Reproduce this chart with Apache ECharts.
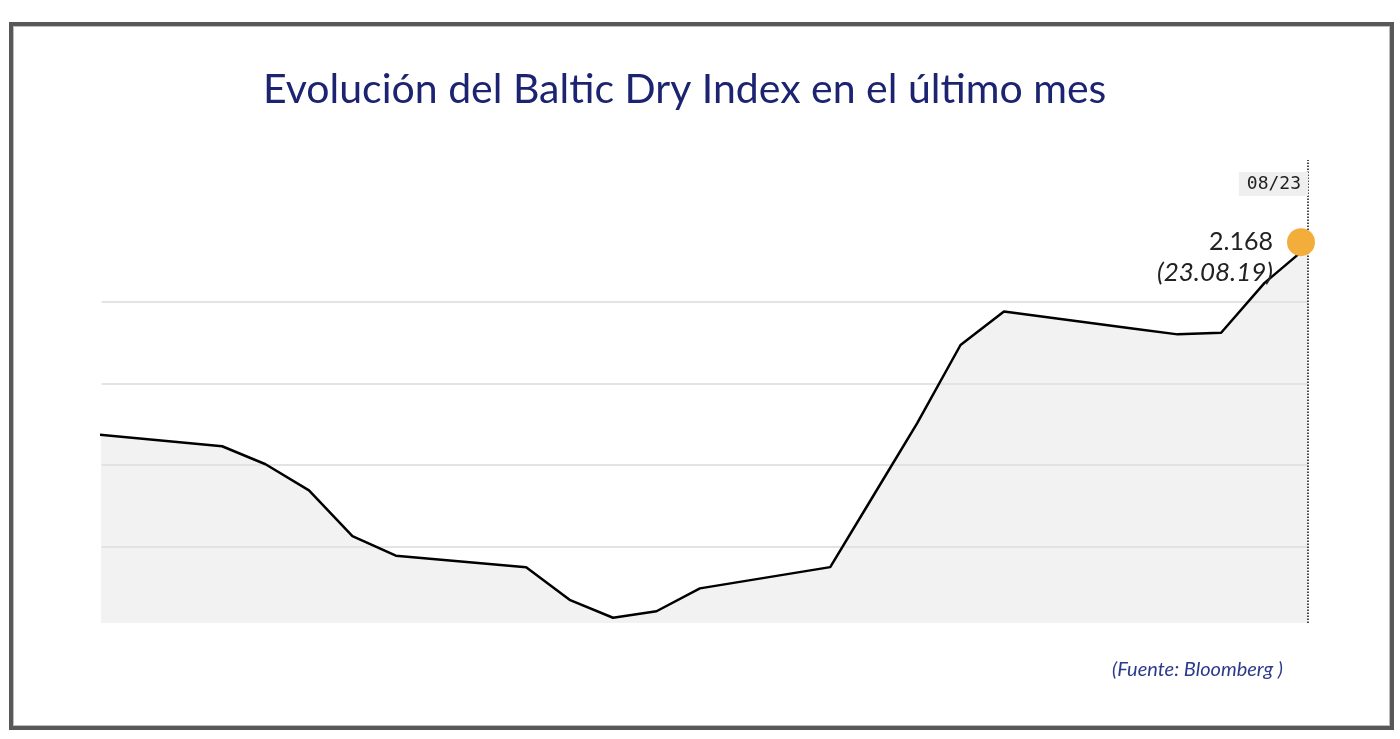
<!DOCTYPE html>
<html>
<head>
<meta charset="utf-8">
<script src="https://cdn.jsdelivr.net/npm/echarts@6/dist/echarts.min.js"></script>
<style>
  html, body { margin: 0; padding: 0; background: #fff; }
  #chart { width: 1400px; height: 739px; position: absolute; left: 0; top: 0; }
  #frame { position: absolute; left: 9px; top: 22px; width: 1377px; height: 700px;
           border: 4px solid #585858; box-shadow: inset 0 0 0 1px #bdbdbd; pointer-events: none; }
</style>
</head>
<body>
<div id="chart"></div>
<div id="frame"></div>
<script>
// ---- data ----
const titleText = 'Evolución del Baltic Dry Index en el último mes';
const sourceText = '(Fuente: Bloomberg )';
const dates = [
  '2019-07-26', '2019-07-29', '2019-07-30', '2019-07-31', '2019-08-01', '2019-08-02',
  '2019-08-05', '2019-08-06', '2019-08-07', '2019-08-08', '2019-08-09',
  '2019-08-12', '2019-08-13', '2019-08-14', '2019-08-15', '2019-08-16',
  '2019-08-19', '2019-08-20', '2019-08-21', '2019-08-22', '2019-08-23'
];
const values = [
  1938, 1923, 1901, 1869, 1813, 1789,
  1775, 1735, 1713, 1721, 1749,
  1775, 1863, 1951, 2047, 2088,
  2067, 2060, 2062, 2123, 2168
];
const gridValues = [1800, 1900, 2000, 2100];
const xStart = '2019-07-26 05:28:00';
const yMin = 1706.6;
const yMax = 2273.5;

// ---- derived ----
const seriesData = dates.map((d, i) => [d, values[i]]);
const lastDate = dates[dates.length - 1];
const lastValue = values[values.length - 1];
const [ly, lm, ld] = lastDate.split('-');
const lastValueText = String(lastValue).replace(/\B(?=(\d{3})+(?!\d))/g, '.');
const lastDateLong = ld + '.' + lm + '.' + ly.slice(2);
const lastDateShort = lm + '/' + ld;

const chart = echarts.init(document.getElementById('chart'), null, { renderer: 'canvas' });
chart.setOption({
  animation: false,
  backgroundColor: '#fff',
  title: [
    {
      text: titleText,
      left: 258,
      top: 64,
      textStyle: { fontFamily: 'Lato', fontSize: 41, fontWeight: 'normal', color: '#1c2472' }
    },
    {
      text: sourceText,
      right: 112,
      top: 655,
      textStyle: { fontFamily: 'Lato', fontSize: 20, fontStyle: 'italic', fontWeight: 'normal', color: '#2b3a8c' }
    }
  ],
  grid: { left: 101.7, right: 92, top: 160, bottom: 116, containLabel: false },
  xAxis: {
    type: 'time',
    min: xStart,
    max: lastDate,
    show: false,
    splitLine: { show: false }
  },
  yAxis: {
    type: 'value',
    min: yMin,
    max: yMax,
    show: false,
    splitLine: { show: false }
  },
  series: [
    {
      // filled area, lowest layer
      type: 'line',
      data: seriesData,
      z: 1,
      silent: true,
      showSymbol: false,
      symbol: 'none',
      lineStyle: { width: 0, opacity: 0 },
      areaStyle: { color: '#f2f2f2', opacity: 1, origin: 'start' },
      emphasis: { disabled: true }
    },
    {
      // reference lines (grid + date cursor), above the fill, under the line
      type: 'line',
      data: [],
      z: 2,
      silent: true,
      markLine: {
        silent: true,
        z: 2,
        symbol: ['none', 'none'],
        animation: false,
        data: gridValues.map(v => ({
          yAxis: v,
          lineStyle: { color: '#e3e3e3', width: 2, type: 'solid' },
          label: { show: false }
        })).concat([{
          xAxis: lastDate,
          lineStyle: { color: '#111', width: 1.5, type: 'dotted' },
          label: {
            show: true,
            position: 'end',
            formatter: lastDateShort,
            align: 'right',
            verticalAlign: 'top',
            distance: [0, -12],
            backgroundColor: '#efefef',
            padding: [3, 7, 3, 8],
            lineHeight: 18,
            fontFamily: 'DejaVu Sans Mono',
            fontSize: 18,
            color: '#222'
          }
        }])
      }
    },
    {
      type: 'line',
      data: seriesData,
      z: 3,
      clip: true,
      showSymbol: false,
      symbol: 'none',
      lineStyle: { color: '#000', width: 2.5 },
      emphasis: { disabled: true },
      markPoint: {
        silent: true,
        animation: false,
        data: [{
          coord: [lastDate, lastValue],
          symbol: 'circle',
          symbolSize: 28,
          symbolOffset: [-7, -4],
          itemStyle: { color: '#f2ad3b' },
          label: {
            show: true,
            position: 'left',
            distance: 14,
            offset: [0, 15],
            formatter: '{v|' + lastValueText + '}\n{d|(' + lastDateLong + ')}',
            rich: {
              v: { fontFamily: 'Lato', fontSize: 25, color: '#222', align: 'right', lineHeight: 30 },
              d: { fontFamily: 'Lato', fontSize: 26, fontStyle: 'italic', color: '#222', align: 'right', lineHeight: 30 }
            }
          }
        }]
      }
    }
  ]
});
</script>
</body>
</html>
